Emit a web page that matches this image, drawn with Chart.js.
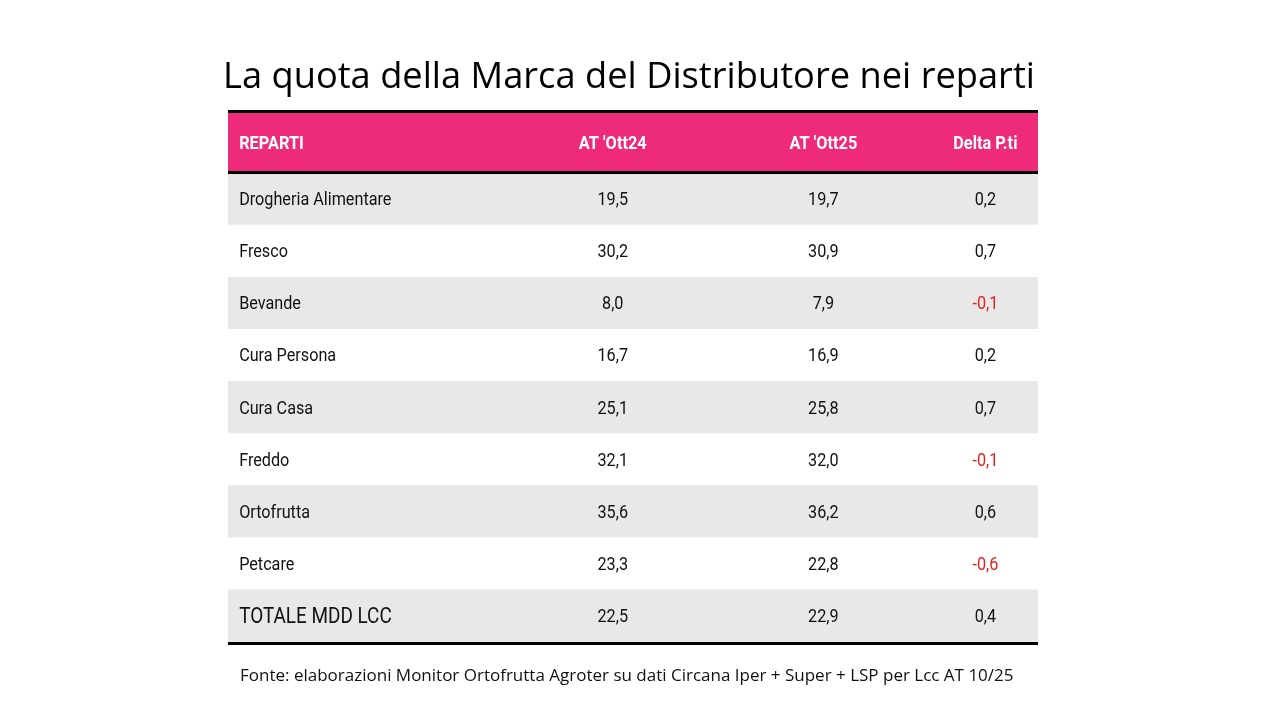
<!DOCTYPE html>
<html>
<head>
<meta charset="utf-8">
<script src="https://cdn.jsdelivr.net/npm/chart.js@4"></script>
<style>
  html, body { margin: 0; padding: 0; background: #fff; }
  #wrap { position: relative; width: 1280px; height: 720px; }
</style>
</head>
<body>
<div id="wrap"><canvas id="mddChart"></canvas></div>
<script>
const titolo = 'La quota della Marca del Distributore nei reparti';
const fonte = 'Fonte: elaborazioni Monitor Ortofrutta Agroter su dati Circana Iper + Super + LSP per Lcc AT 10/25';
const colonne = ['REPARTI', "AT 'Ott24", "AT 'Ott25", 'Delta P.ti'];
const reparti = ['Drogheria Alimentare', 'Fresco', 'Bevande', 'Cura Persona', 'Cura Casa', 'Freddo', 'Ortofrutta', 'Petcare', 'TOTALE MDD LCC'];
const at24 = [19.5, 30.2, 8.0, 16.7, 25.1, 32.1, 35.6, 23.3, 22.5];
const at25 = [19.7, 30.9, 7.9, 16.9, 25.8, 32.0, 36.2, 22.8, 22.9];
const delta = [0.2, 0.7, -0.1, 0.2, 0.7, -0.1, 0.6, -0.6, 0.4];

const ROSA = '#ee2a7b';
const GRIGIO = '#e8e8e8';
const ROSSO = '#e3211f';

function fmt(v) {
    return v.toFixed(1).replace('.', ',');
}

// testo "condensato" schiacciando in orizzontale
function testo(ctx, s, x, y, align, sx) {
    ctx.save();
    ctx.translate(x, y);
    ctx.scale(sx, 1);
    ctx.textAlign = align;
    ctx.fillText(s, 0, 0);
    ctx.restore();
}

const tabella = {
    id: 'tabella',
    afterDatasetsDraw(chart) {
        const ctx = chart.ctx;
        const area = chart.chartArea;
        const x = chart.scales.x;
        const y = chart.scales.y;
        // posizioni delle colonne sulla scala x (0..4)
        const pos = [0.055, 1.9, 2.94, 3.74];

        ctx.save();
        ctx.textBaseline = 'middle';

        // titolo
        ctx.fillStyle = '#000';
        ctx.font = '37px "Open Sans"';
        ctx.textAlign = 'center';
        ctx.fillText(titolo, 629, 77, 812);

        // intestazione
        const top = 113;
        ctx.fillStyle = ROSA;
        ctx.fillRect(area.left, top, area.right - area.left, area.top - top);
        ctx.fillStyle = '#000';
        ctx.fillRect(area.left, top - 3, area.right - area.left, 3);
        ctx.fillRect(area.left, area.top - 2, area.right - area.left, 3);
        ctx.fillRect(area.left, area.bottom, area.right - area.left, 3);

        ctx.fillStyle = '#fff';
        ctx.font = 'bold 19px Roboto';
        const yh = (top + area.top) / 2 + 1;
        testo(ctx, colonne[0], x.getPixelForValue(pos[0]), yh, 'left', 0.86);
        for (let c = 1; c < colonne.length; c++) {
            testo(ctx, colonne[c], x.getPixelForValue(pos[c]), yh, 'center', 0.86);
        }

        // righe
        reparti.forEach((r, i) => {
            const yp = y.getPixelForValue(i) + 1.5;
            const tot = i === reparti.length - 1;
            ctx.fillStyle = '#111';
            ctx.font = tot ? '22px Roboto' : '18px Roboto';
            testo(ctx, r, x.getPixelForValue(pos[0]), yp, 'left', tot ? 0.86 : 0.9);
            ctx.font = '18px Roboto';
            testo(ctx, fmt(at24[i]), x.getPixelForValue(pos[1]), yp, 'center', 0.9);
            testo(ctx, fmt(at25[i]), x.getPixelForValue(pos[2]), yp, 'center', 0.9);
            ctx.fillStyle = delta[i] < 0 ? ROSSO : '#111';
            testo(ctx, fmt(delta[i]), x.getPixelForValue(pos[3]), yp, 'center', 0.9);
        });

        // fonte
        ctx.fillStyle = '#111';
        ctx.font = '17px "Open Sans"';
        ctx.textAlign = 'left';
        ctx.fillText(fonte, 240, 676, 776);
        ctx.restore();
    }
};

const ctx = document.getElementById('mddChart').getContext('2d');
new Chart(ctx, {
    type: 'bar',
    data: {
        labels: reparti,
        datasets: [{
            label: 'righe',
            data: reparti.map(() => [0, 4]),
            backgroundColor: reparti.map((r, i) => i % 2 === 0 ? GRIGIO : '#ffffff'),
            borderWidth: 0,
            barPercentage: 1,
            categoryPercentage: 1
        }]
    },
    options: {
        indexAxis: 'y',
        responsive: true,
        maintainAspectRatio: false,
        animation: false,
        layout: {
            padding: { left: 228, right: 242, top: 173, bottom: 78 }
        },
        scales: {
            x: { min: 0, max: 4, display: false },
            y: { display: false }
        },
        plugins: {
            legend: { display: false },
            tooltip: { enabled: false }
        }
    },
    plugins: [tabella]
});
</script>
</body>
</html>
